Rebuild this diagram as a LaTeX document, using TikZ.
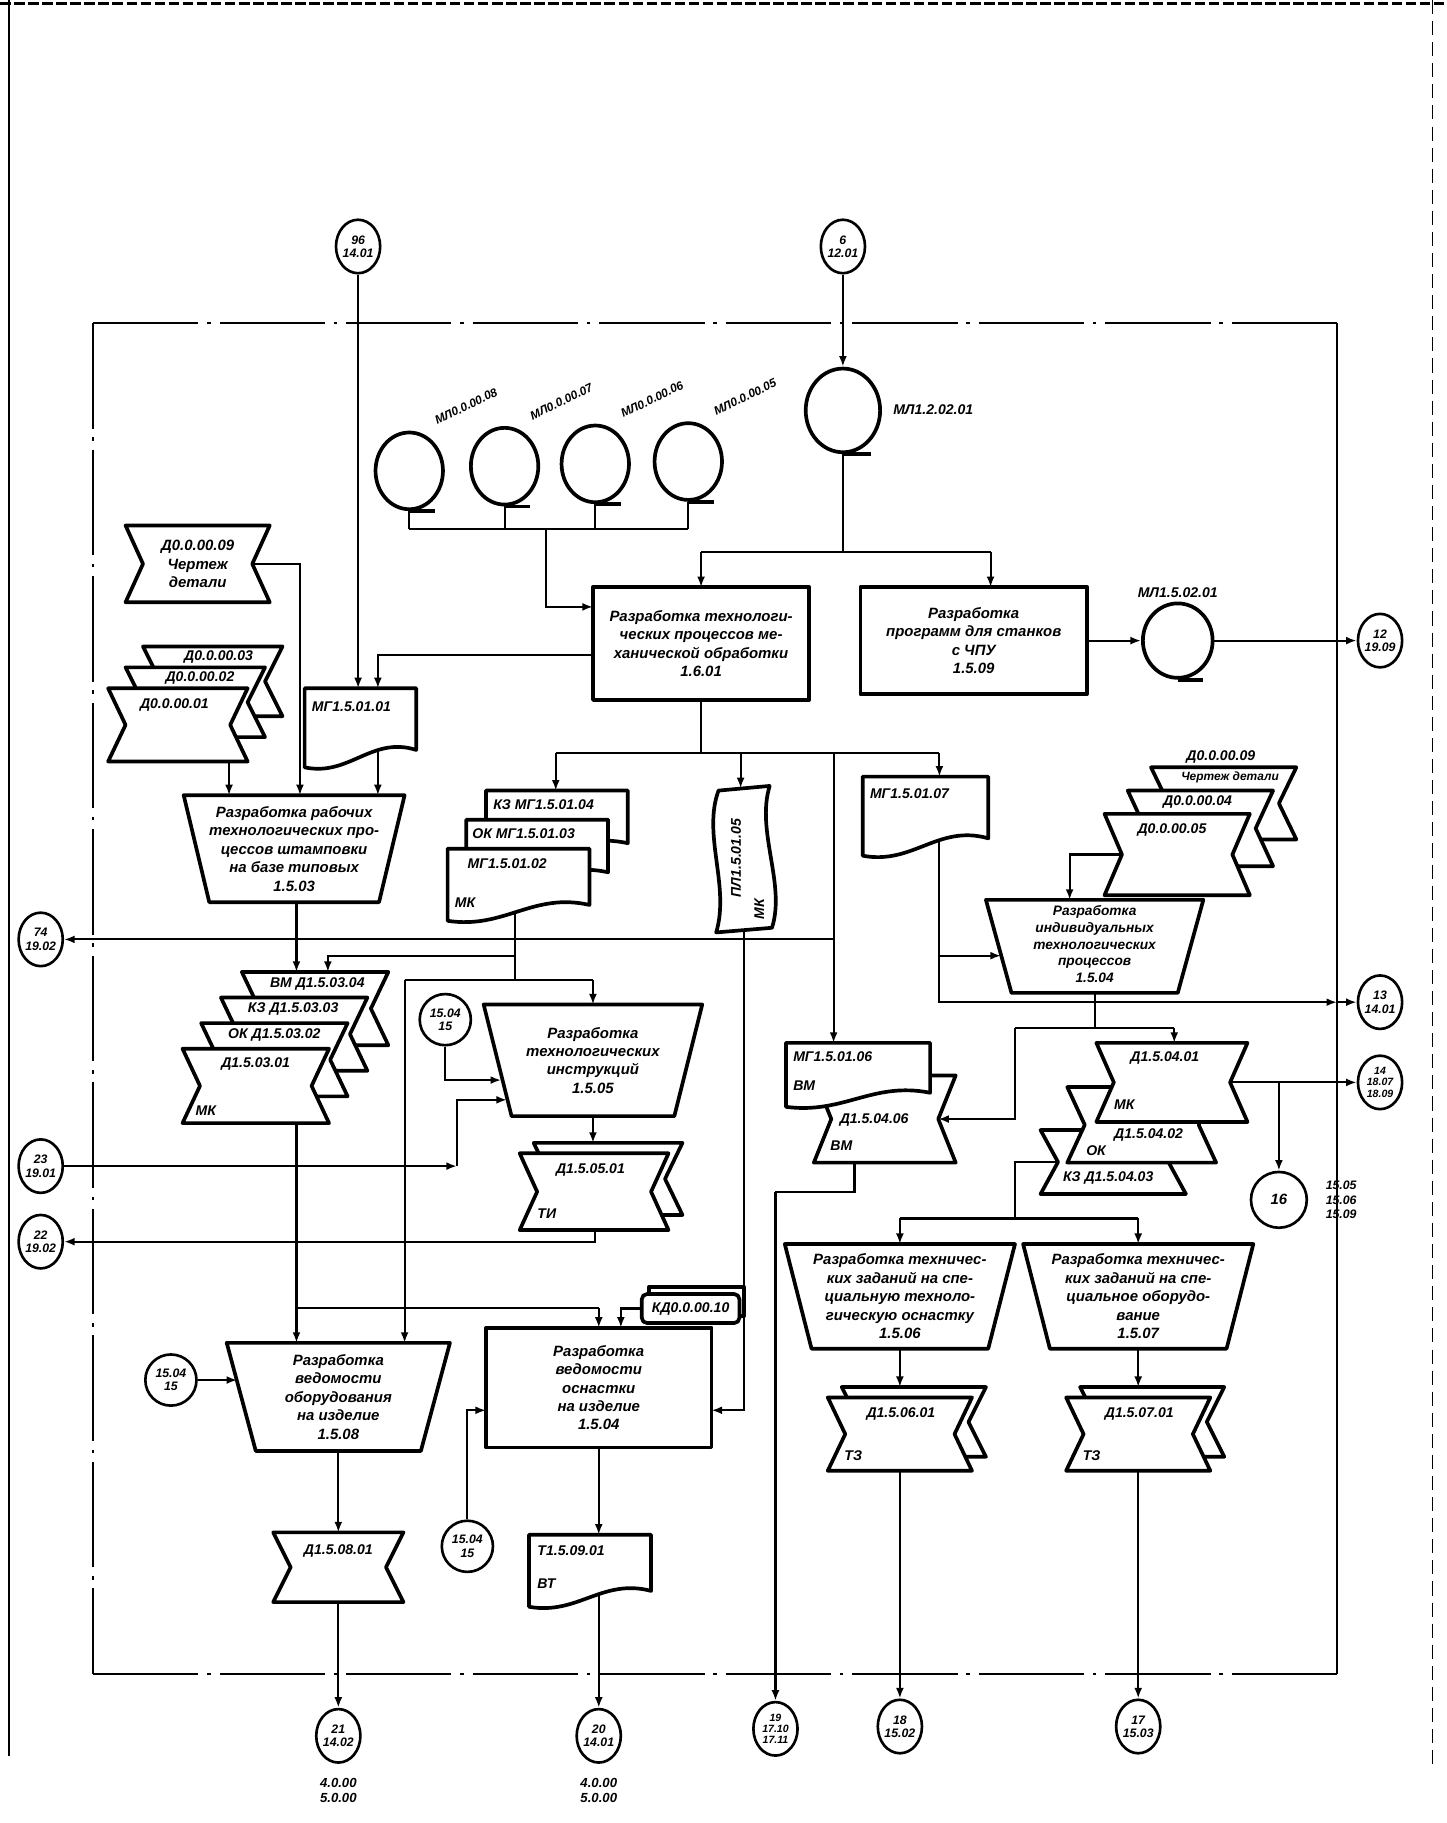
\documentclass[tikz,border=0pt]{standalone}
\usepackage{fontspec}
\setmainfont{Liberation Sans}
\usetikzlibrary{arrows.meta,shapes.geometric,calc}
\def\myu{0.02325cm}
\tikzset{
  sh/.style={line width=2.1pt, line join=round, fill=white},
  ln/.style={line width=1.2pt},
  ar/.style={ln,-{Latex[length=6pt,width=4.5pt]}},
  txt/.style={font=\fontsize{8.5}{10.5}\selectfont\bfseries\itshape, align=center, inner sep=0pt},
  smtxt/.style={font=\fontsize{7.8}{9.4}\selectfont\bfseries\itshape, align=center, inner sep=0pt},
  lbl/.style={font=\fontsize{8}{9}\selectfont\bfseries\itshape, inner sep=0pt},
  rlbl/.style={font=\fontsize{6.8}{8}\selectfont\bfseries\itshape, inner sep=0pt, rotate=26, anchor=south west},
  offc/.style={draw, ellipse, line width=1.5pt, fill=white, minimum width={38*\myu}, minimum height={46*\myu}, inner sep=0pt, align=center, font=\fontsize{7}{7.6}\selectfont\bfseries\itshape},
  tapec/.style={draw, ellipse, line width=2.1pt, fill=white, inner sep=0pt},
  framedd/.style={line width=1.2pt, dash pattern=on 60pt off 5pt on 2pt off 5pt},
}
\newcommand\anchorbox[6]{\node[txt, inner sep=0pt, outer sep=0pt, minimum width={#4*\myu}, minimum height={#5*\myu}] (#1) at ({#2+#4/2},{#3+#5/2}) {#6};}
\newcommand\btie[5]{\draw[sh] (#2,#3) -- ++(#4,0) -- ++(-15,{#5/2}) -- ++(15,{#5/2}) -- ++(-#4,0) -- ++(15,{-#5/2}) -- cycle; \anchorbox{#1}{#2}{#3}{#4}{#5}{}}
\newcommand\docsh[5]{\draw[sh] (#2,#3) -- ++(#4,0) -- ++(0,{0.78*#5}) .. controls ({#2+0.6*#4},{#3+0.6*#5}) and ({#2+0.4*#4},{#3+1.12*#5}) .. (#2,{#3+#5}) -- cycle; \anchorbox{#1}{#2}{#3}{#4}{#5}{}}
\newcommand\trap[7]{\draw[sh] (#2,#3) -- ++(#4,0) -- ++(-#6,#5) -- ++({-#4+2*#6},0) -- cycle; \anchorbox{#1}{#2}{#3}{#4}{#5}{#7}}
\newcommand\rbox[6]{\draw[sh] (#2,#3) rectangle ++(#4,#5); \anchorbox{#1}{#2}{#3}{#4}{#5}{#6}}
\begin{document}
\begin{tikzpicture}[x=0.02325cm, y=-0.02325cm]
\useasboundingbox (0,0) rectangle (1244,1568);
% page edges
\draw[line width=1pt] (8,0) -- (8,1510);
\draw[line width=1.2pt, dash pattern=on 6pt off 2pt] (0,3) -- (1244,3);
\draw[line width=1pt, dash pattern=on 8pt off 4pt] (1232,0) -- (1232,1520);
% frame
\draw[framedd] (80,278) -- (1150,278);
\draw[framedd] (80,1440) -- (1150,1440);
\draw[framedd] (80,278) -- (80,1440);
\draw[ln] (1150,278) -- (1150,1440);

% ---------- magnetic tape circles ----------
\node[tapec, minimum width={58*\myu}, minimum height={66*\myu}] (t8) at (352,405) {};
\node[tapec, minimum width={58*\myu}, minimum height={66*\myu}] (t7) at (434,401) {};
\node[tapec, minimum width={58*\myu}, minimum height={66*\myu}] (t6) at (512,399) {};
\node[tapec, minimum width={58*\myu}, minimum height={66*\myu}] (t5) at (592,397) {};
\foreach \t in {t8,t7,t6,t5}{\draw[line width=2.1pt] (\t.south) -- ++(22,0);}
\node[rlbl] (l8) at (376,366) {МЛ0.0.00.08};
\node[rlbl] (l7) at (458,362) {МЛ0.0.00.07};
\node[rlbl] (l6) at (536,360) {МЛ0.0.00.06};
\node[rlbl] (l5) at (616,358) {МЛ0.0.00.05};
\node[tapec, minimum width={64*\myu}, minimum height={72*\myu}] (t1202) at (725,353) {};
\draw[line width=2.1pt] (t1202.south) -- ++(24,0);
\node[lbl, anchor=west] (l1202) at (768,352) {МЛ1.2.02.01};
\node[tapec, minimum width={60*\myu}, minimum height={64*\myu}] (t1502) at (1013,551) {};
\draw[line width=2.1pt] (t1502.south) -- ++(22,0);
\node[lbl, anchor=south] (l1502) at (1013,514) {МЛ1.5.02.01};

% ---------- boxes ----------
\rbox{b601}{510}{505}{186}{97}{Разработка технологи-\\ческих процессов ме-\\ханической обработки\\1.6.01}
\rbox{b509}{740}{505}{195}{92}{Разработка\\программ для станков\\с ЧПУ\\1.5.09}

% left top documents
\btie{d009}{108}{452}{124}{66}
\node[txt] (d009t) at (170,485) {Д0.0.00.09\\Чертеж\\детали};
\btie{d003}{123}{556}{120}{60}
\btie{d002}{108}{574}{120}{60}
\btie{d001}{93}{592}{120}{63}
\node[lbl] (d003t) at (188,565) {Д0.0.00.03};
\node[lbl] (d002t) at (172,583) {Д0.0.00.02};
\node[lbl] (d001t) at (150,606) {Д0.0.00.01};
\docsh{m501}{262}{592}{96}{68}
\node[lbl, anchor=west] (m501t) at (268,608) {МГ1.5.01.01};

\trap{p503}{158}{684}{190}{92}{22}{Разработка рабочих\\технологических про-\\цессов штамповки\\на базе типовых\\1.5.03}

% MG stack
\docsh{m504}{418}{680}{122}{58}
\docsh{m503}{401}{705}{122}{58}
\docsh{m502}{385}{730}{122}{62}
\node[lbl, anchor=west] (m504t) at (424,692) {КЗ МГ1.5.01.04};
\node[lbl, anchor=west] (m503t) at (406,717) {ОК МГ1.5.01.03};
\node[lbl, anchor=west] (m502t) at (402,743) {МГ1.5.01.02};
\node[lbl, anchor=west] (m502k) at (391,776) {МК};

% punched tape
\draw[sh] (618,680) -- (662,676) .. controls (650,715) and (676,760) .. (664,798) -- (616,802) .. controls (628,762) and (604,718) .. cycle;
\anchorbox{pl}{612}{676}{54}{126}{}
\node[lbl, rotate=90] (plt) at (633,738) {ПЛ1.5.01.05};
\node[lbl, rotate=90] (plk) at (653,782) {МК};

\docsh{m507}{742}{668}{108}{68}
\node[lbl, anchor=west] (m507t) at (748,683) {МГ1.5.01.07};

% right stack
\btie{dR09}{990}{660}{125}{62}
\btie{dR04}{970}{680}{125}{65}
\btie{dR05}{950}{700}{125}{70}
\node[lbl, anchor=south] (dR09a) at (1050,657) {Д0.0.00.09};
\node[lbl, font=\fontsize{6.8}{8}\selectfont\bfseries\itshape] (dR09t) at (1058,669) {Чертеж детали};
\node[lbl] (dR04t) at (1030,690) {Д0.0.00.04};
\node[lbl] (dR05t) at (1008,714) {Д0.0.00.05};

\trap{p504}{848}{774}{187}{80}{22}{}
\node[smtxt] (p504t) at (941.5,812) {Разработка\\индивидуальных\\технологических\\процессов\\1.5.04};

% D1.5.03 stack
\btie{d5034}{208}{836}{126}{63}
\btie{d5033}{190}{858}{126}{63}
\btie{d5032}{173}{880}{126}{63}
\btie{d5031}{157}{902}{126}{64}
\node[lbl, anchor=west] (d5034t) at (232,846) {ВМ Д1.5.03.04};
\node[lbl, anchor=west] (d5033t) at (213,868) {КЗ Д1.5.03.03};
\node[lbl, anchor=west] (d5032t) at (196,890) {ОК Д1.5.03.02};
\node[lbl, anchor=west] (d5031t) at (190,915) {Д1.5.03.01};
\node[lbl, anchor=west] (d5031k) at (168,955) {МК};

\trap{p505}{416}{864}{188}{96}{24}{Разработка\\технологических\\инструкций\\1.5.05}
\btie{d5051b}{459}{983}{128}{62}
\btie{d5051}{447}{992}{128}{66}
\node[lbl, anchor=west] (d5051t) at (478,1006) {Д1.5.05.01};
\node[lbl, anchor=west] (d5051k) at (462,1044) {ТИ};

% MG1.5.01.06 / D1.5.04.06
\btie{d5046}{700}{925}{122}{75}
\docsh{m506}{676}{897}{124}{55}
\node[lbl, anchor=west] (m506t) at (682,909) {МГ1.5.01.06};
\node[lbl, anchor=west] (m506k) at (682,934) {ВМ};
\node[lbl, anchor=west] (d5046t) at (722,963) {Д1.5.04.06};
\node[lbl, anchor=west] (d5046k) at (714,985) {ВМ};

% D1.5.04 stack
\btie{d5043}{895}{972}{125}{55}
\btie{d5042}{918}{935}{128}{65}
\btie{d5041}{943}{897}{130}{68}
\node[lbl, anchor=west] (d5041t) at (972,910) {Д1.5.04.01};
\node[lbl, anchor=west] (d5041k) at (958,950) {МК};
\node[lbl, anchor=west] (d5042t) at (958,976) {Д1.5.04.02};
\node[lbl, anchor=west] (d5042k) at (934,990) {ОК};
\node[lbl, anchor=west] (d5043t) at (914,1013) {КЗ Д1.5.04.03};

% 1.5.06 / 1.5.07
\trap{p506}{675}{1070}{198}{90}{23}{Разработка техничес-\\ких заданий на спе-\\циальную техноло-\\гическую оснастку\\1.5.06}
\trap{p507}{880}{1070}{198}{90}{23}{Разработка техничес-\\ких заданий на спе-\\циальное оборудо-\\вание\\1.5.07}
\btie{d5061b}{724}{1193}{124}{60}
\btie{d5061}{712}{1202}{124}{63}
\node[lbl, anchor=west] (d5061t) at (745,1216) {Д1.5.06.01};
\node[lbl, anchor=west] (d5061k) at (726,1252) {ТЗ};
\btie{d5071b}{929}{1193}{124}{60}
\btie{d5071}{917}{1202}{124}{63}
\node[lbl, anchor=west] (d5071t) at (950,1216) {Д1.5.07.01};
\node[lbl, anchor=west] (d5071k) at (931,1252) {ТЗ};

% 1.5.08 / 1.5.04 box
\trap{p508}{195}{1155}{192}{93}{25}{Разработка\\ведомости\\оборудования\\на изделие\\1.5.08}
\btie{d508}{235}{1318}{112}{60}
\node[lbl] (d508t) at (291,1334) {Д1.5.08.01};
\rbox{b504}{418}{1142}{194}{103}{Разработка\\ведомости\\оснастки\\на изделие\\1.5.04}
\draw[sh] (558,1107) rectangle (640,1132);
\draw[sh, rounded corners=3pt] (552,1113) rectangle (636,1138);
\node[lbl] (kd) at (594,1125.5) {КД0.0.00.10};
\docsh{t509}{455}{1320}{105}{62}
\node[lbl, anchor=west] (t509t) at (462,1334) {Т1.5.09.01};
\node[lbl, anchor=west] (t509k) at (462,1362) {ВТ};

% ---------- connectors ----------
\coordinate (ja) at (603,475);
\coordinate (jb) at (852,475);
\draw[ln] (t1202.south) -- (t1202.south |- ja);
\draw[ln] (ja) -- (jb);
\draw[ar] (ja) -- (ja |- b601.north);
\draw[ar] (jb) -- (jb |- b509.north);
\coordinate (tb1) at (352,455);
\foreach \t in {t8,t7,t6,t5}{\draw[ln] (\t.south) -- (\t.south |- tb1);}
\draw[ln] (tb1) -- (592,455);
\draw[ar] (470,455) |- (510,522);
\draw[ar] (510,563) -| (325,592);
\draw[ar] (b509.east |- t1502.west) -- (t1502.west);
\coordinate (jc) at (603,648);
\draw[ln] (b601.south) -- (jc);
\draw[ln] (478,648) -- (808,648);
\draw[ar] (478,648) -- (478,680);
\draw[ar] (637,648) -- (637,678);
\draw[ar] (808,648) -- (808,668);
\draw[ar] (717,648) -- (717,897);
\draw[ar] ($(d009.east)+(-15,0)$) -| (258,684);
\draw[ar] (197,655) -- (197,684);
\draw[ar] (325,646) -- (325,684);
\draw[ar] (255,776) -- (255,836);
\draw[ln] (443,784) -- (443,843);
\draw[ln] (348,843) -- (510,843);
\draw[ar] (510,843) -- (510,864);
\draw[ar] (348,843) -- (348,1155);
\draw[ar] (443,822) -| (282,836);
\draw[ar] (255,966) -- (255,1155);
\draw[ar] (393,1003) |- ($(p505.north west)+(20,82)$);
\draw[ar] (510,960) -- (510,983);
\draw[ln] (255,1125) -- (515,1125);
\draw[ar] (515,1125) -- (515,1142);
\draw[ar] (552,1125.5) -| (534,1142);
\draw[ar] (640,801) |- (612,1213);
\draw[ar] (p508.south) -- (d508.north);
\draw[ar] (515,1245) -- (515,1320);
\draw[ar] (808,724) |- (1150,862);
\draw[ar] (808,822) -- ($(p504.north west)+(13,48)$);
\draw[ar] ($(dR05.west)+(15,0)$) -| (920,774);
\draw[ln] (p504.south) -- (p504.south |- 0,884);
\draw[ln] (873,884) -- (1010,884);
\draw[ar] (1010,884) -- (1010,897);
\draw[ar] (873,884) |- ($(d5046.east)+(-15,0)$);
\draw[ln] ($(d5043.west)+(15,0)$) -| (873,1048);
\draw[ln] (774,1048) -- (979,1048);
\draw[ar] (774,1048) -- (774,1070);
\draw[ar] (979,1048) -- (979,1070);
\draw[ar] (p506.south) -- (774,1193);
\draw[ar] (p507.south) -- (979,1193);
\draw[ln] (735,1000) -- (735,1025) -- (667,1025);

% ---------- off-page connectors ----------
\node[offc] (c96) at (308,212) {96\\14.01};
\node[offc] (c6) at (725,212) {6\\12.01};
\node[offc] (c12) at (1187,551) {12\\19.09};
\node[offc] (c74) at (35,808) {74\\19.02};
\node[offc] (c13) at (1187,862) {13\\14.01};
\node[offc, font=\fontsize{6}{6.4}\selectfont\bfseries\itshape] (c14) at (1187,931) {14\\18.07\\18.09};
\node[offc] (c23) at (35,1003) {23\\19.01};
\node[offc] (c22) at (35,1068) {22\\19.02};
\node[offc, minimum width={48*\myu}, minimum height={48*\myu}, font=\fontsize{8.5}{9}\selectfont\bfseries\itshape] (c16) at (1100,1032) {16};
\node[lbl, anchor=west, align=left, font=\fontsize{7}{8.4}\selectfont\bfseries\itshape] (c16l) at (1140,1032) {15.05\\15.06\\15.09};
\node[offc, minimum width={44*\myu}, minimum height={44*\myu}] (c1504a) at (383,877) {15.04\\15};
\node[offc, minimum width={44*\myu}, minimum height={44*\myu}] (c1504b) at (147,1187) {15.04\\15};
\node[offc, minimum width={44*\myu}, minimum height={44*\myu}] (c1504c) at (402,1330) {15.04\\15};
\node[offc] (c21) at (291,1493) {21\\14.02};
\node[offc] (c20) at (515,1493) {20\\14.01};
\node[offc, font=\fontsize{6}{6.4}\selectfont\bfseries\itshape] (c19) at (667,1487) {19\\17.10\\17.11};
\node[offc] (c18) at (774,1485) {18\\15.02};
\node[offc] (c17) at (979,1485) {17\\15.03};
\node[lbl, align=center, font=\fontsize{7.5}{8.8}\selectfont\bfseries\itshape] (c21l) at (291,1540) {4.0.00\\5.0.00};
\node[lbl, align=center, font=\fontsize{7.5}{8.8}\selectfont\bfseries\itshape] (c20l) at (515,1540) {4.0.00\\5.0.00};

% connectors touching off-page circles
\draw[ar] (c96.south) -- (c96.south |- m501.north);
\draw[ar] (c6.south) -- (t1202.north);
\draw[ar] (t1502.east) -- (c12.west);
\draw[ar] (717,808) -- (c74.east);
\draw[ar] (1150,862) -- (c13.west);
\draw[ar] ($(d5041.east)+(-15,0)$) -- (c14.west);
\draw[ar] (1100,931) -- (c16.north);
\draw[ar] (c23.east) -- (393,1003);
\draw[ar] (512,1058) |- (c22.east);
\draw[ar] (c1504a.south) |- ($(p505.north west)+(15,65)$);
\draw[ar] (c1504b.east) -- ($(p508.north west)+(9,32)$);
\draw[ar] (c1504c.north) |- (418,1213);
\draw[ar] (d508.south) -- (c21.north);
\draw[ar] (515,1371) -- (c20.north);
\draw[ar] (667,1025) -- (c19.north);
\draw[ar] (d5061.south) -- (c18.north);
\draw[ar] (d5071.south) -- (c17.north);
\end{tikzpicture}
\end{document}
